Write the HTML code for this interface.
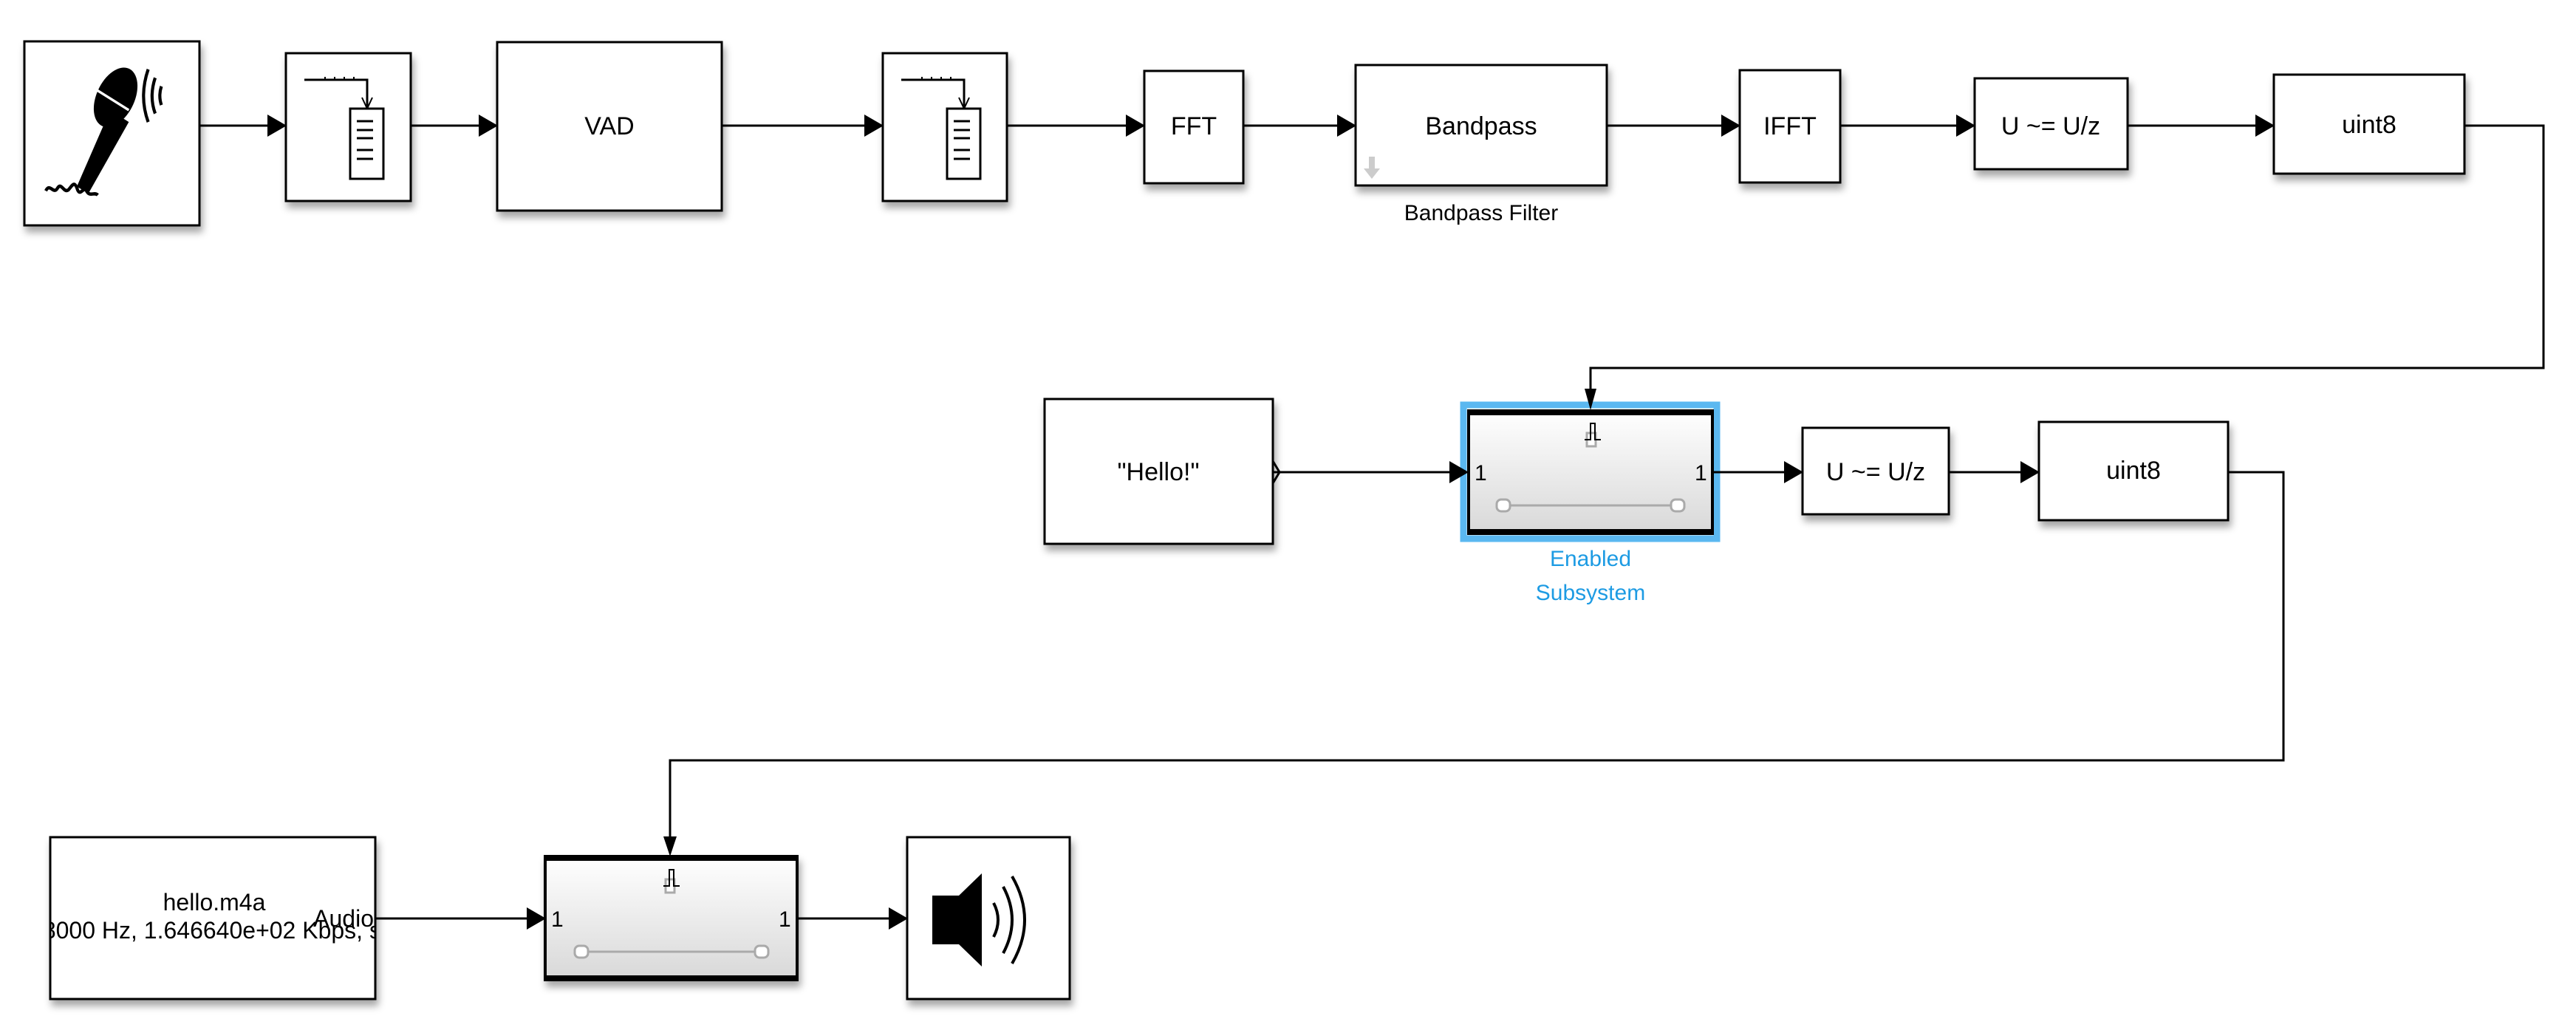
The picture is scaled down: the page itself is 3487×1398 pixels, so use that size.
<!DOCTYPE html>
<html><head><meta charset="utf-8"><style>
html,body{margin:0;padding:0;background:#fff;}
svg{display:block;}
text{font-family:"Liberation Sans",sans-serif;}
</style></head><body>
<svg width="3487" height="1398" viewBox="0 0 3487 1398" xmlns="http://www.w3.org/2000/svg">
<defs>
<filter id="sh" x="-10%" y="-10%" width="130%" height="140%">
<feDropShadow dx="3" dy="8" stdDeviation="5" flood-color="#000" flood-opacity="0.35"/>
</filter>
<linearGradient id="sg" x1="0" y1="0" x2="0" y2="1">
<stop offset="0" stop-color="#ffffff"/><stop offset="1" stop-color="#d8d8d8"/>
</linearGradient>
<clipPath id="clipHello"><rect x="68" y="1133" width="440" height="219"/></clipPath>
</defs>
<g fill="#fff" stroke="#000" stroke-width="3" filter="url(#sh)">
<rect x="33" y="56" width="237" height="249"/>
<rect x="387" y="72" width="169" height="200"/>
<rect x="673" y="57" width="304" height="228"/>
<rect x="1195" y="72" width="168" height="200"/>
<rect x="1549" y="96" width="134" height="152"/>
<rect x="1835" y="88" width="340" height="163"/>
<rect x="2355" y="95" width="136" height="152"/>
<rect x="2673" y="106" width="207" height="123"/>
<rect x="3078" y="101" width="258" height="134"/>
<rect x="1414" y="540" width="309" height="196"/>
<rect x="2440" y="579" width="198" height="117"/>
<rect x="2760" y="571" width="256" height="133"/>
<rect x="68" y="1133" width="440" height="219"/>
<rect x="1228" y="1133" width="220" height="219"/>
</g>
<!-- enabled subsystems -->
<rect x="1981" y="548" width="343" height="181" fill="none" stroke="#5bb8f0" stroke-width="9"/>
<rect x="1988" y="556" width="330" height="166" fill="url(#sg)" stroke="#000" stroke-width="4"/>
<rect x="1988" y="556" width="330" height="6" fill="#000"/>
<rect x="1988" y="716" width="330" height="6" fill="#000"/>
<rect x="738" y="1159" width="341" height="167" fill="url(#sg)" stroke="#000" stroke-width="4" filter="url(#sh)"/>
<rect x="738" y="1159" width="341" height="6" fill="#000"/>
<rect x="738" y="1320" width="341" height="6" fill="#000"/>
<!-- subsystem internals -->
<g stroke="#aaa" stroke-width="3" fill="#fff">
<line x1="2036" y1="684" x2="2270" y2="684"/>
<rect x="2026" y="676" width="18" height="16" rx="6"/>
<rect x="2262" y="676" width="18" height="16" rx="6"/>
<line x1="788" y1="1288" x2="1030" y2="1288"/>
<rect x="778" y="1280" width="18" height="16" rx="6"/>
<rect x="1022" y="1280" width="18" height="16" rx="6"/>
<rect x="2148" y="586" width="12" height="18"/>
<rect x="901" y="1190" width="12" height="18"/>
</g>
<g stroke="#000" stroke-width="2" fill="none">
<path d="M2145 595 h8 v-22 h6 v22 h8"/>
<path d="M898 1199 h8 v-22 h6 v22 h8"/>
</g>
<g font-size="30" fill="#000">
<text x="1996" y="650">1</text><text x="2294" y="650">1</text>
<text x="746" y="1254">1</text><text x="1054" y="1254">1</text>
</g>
<!-- texts -->
<g font-size="34" fill="#000" text-anchor="middle">
<text x="825" y="182">VAD</text>
<text x="1616" y="182">FFT</text>
<text x="2005" y="182">Bandpass</text>
<text x="2423" y="182">IFFT</text>
<text x="2776" y="182">U ~= U/z</text>
<text x="3207" y="180">uint8</text>
<text x="1568" y="650">"Hello!"</text>
<text x="2539" y="650">U ~= U/z</text>
<text x="2888" y="648">uint8</text>
</g>
<text x="2005" y="298" font-size="30" text-anchor="middle" fill="#000">Bandpass Filter</text>
<text x="2153" y="766" font-size="30" text-anchor="middle" fill="#1d9be3">Enabled</text>
<text x="2153" y="812" font-size="30" text-anchor="middle" fill="#1d9be3">Subsystem</text>
<g clip-path="url(#clipHello)" font-size="32" fill="#000">
<text x="290" y="1232" text-anchor="middle">hello.m4a</text>
<text x="278" y="1270" text-anchor="middle">48000 Hz, 1.646640e+02 Kbps, s</text>
<text x="506" y="1254" text-anchor="end">Audio</text>
</g>
<path d="M1853 212 h8 v16 h7 l-11 14 l-11 -14 h7 z" fill="#ccc"/>
<!-- buffer icons -->
<g stroke="#000" stroke-width="3" fill="#fff">
<path d="M412 108 h85 v37" fill="none"/>
<path d="M490 132 l7 15 l7 -15" fill="none" stroke-width="2"/>
<rect x="474" y="147" width="45" height="95"/>
<path d="M1220 108 h85 v37" fill="none"/>
<path d="M1298 132 l7 15 l7 -15" fill="none" stroke-width="2"/>
<rect x="1282" y="147" width="45" height="95"/>
</g>
<g stroke="#000" stroke-width="3">
<path d="M483 164 h22 M483 176 h22 M483 187 h22 M483 203 h22 M483 215 h22"/>
<path d="M1291 164 h22 M1291 176 h22 M1291 187 h22 M1291 203 h22 M1291 215 h22"/>
<path d="M440 104 v4 M453 104 v4 M466 104 v4 M479 104 v4" stroke-width="2"/>
<path d="M1248 104 v4 M1261 104 v4 M1274 104 v4 M1287 104 v4" stroke-width="2"/>
</g>
<!-- microphone -->
<g transform="translate(62,80) scale(1.05 1.15) translate(-45,-60)">
<path d="M85 210 L128 120 L152 134 L100 218 Z" fill="#000"/>
<ellipse cx="135" cy="105" rx="24" ry="38" transform="rotate(30 135 105)" fill="#000"/>
<path d="M110 96 L152 120" stroke="#fff" stroke-width="3"/>
<path d="M45 215 c5 -10 10 5 15 -3 c5 -8 8 6 14 2 c5 -5 8 -12 12 0 c4 8 8 -6 12 2 c4 6 10 0 14 4" fill="none" stroke="#000" stroke-width="4"/>
<path d="M177 72 q-12 32 0 62" fill="none" stroke="#000" stroke-width="4"/>
<path d="M186 82 q-8 22 0 42" fill="none" stroke="#000" stroke-width="4"/>
<path d="M194 92 q-4 11 0 22" fill="none" stroke="#000" stroke-width="4"/>
</g>
<!-- speaker -->
<g>
<rect x="1262" y="1212" width="38" height="66" fill="#000"/>
<path d="M1298 1212 L1329 1182 L1329 1308 L1298 1278 Z" fill="#000"/>
<path d="M1345 1222 q12 23 0 46" fill="none" stroke="#000" stroke-width="4"/>
<path d="M1358 1200 q24 45 0 90" fill="none" stroke="#000" stroke-width="4"/>
<path d="M1370 1186 q34 59 0 118" fill="none" stroke="#000" stroke-width="4"/>
</g>
<!-- connectors -->
<g stroke="#000" stroke-width="3" fill="none">
<path d="M270 170 H362"/>
<path d="M556 170 H648"/>
<path d="M977 170 H1170"/>
<path d="M1363 170 H1524"/>
<path d="M1683 170 H1810"/>
<path d="M2175 170 H2330"/>
<path d="M2491 170 H2648"/>
<path d="M2880 170 H3053"/>
<path d="M3336 170 H3443 V498 H2153 V528"/>
<path d="M1723 639 H1962"/>
<path d="M2318 639 H2415"/>
<path d="M2638 639 H2735"/>
<path d="M3016 639 H3091 V1029 H907 V1133"/>
<path d="M508 1243 H713"/>
<path d="M1079 1243 H1203"/>
<path d="M1723 624 l9 15 l-9 15" stroke-width="3"/>
</g>
<g fill="#000">
<path d="M362 155 L388 170 L362 185 Z"/>
<path d="M648 155 L674 170 L648 185 Z"/>
<path d="M1170 155 L1196 170 L1170 185 Z"/>
<path d="M1524 155 L1550 170 L1524 185 Z"/>
<path d="M1810 155 L1836 170 L1810 185 Z"/>
<path d="M2330 155 L2356 170 L2330 185 Z"/>
<path d="M2648 155 L2674 170 L2648 185 Z"/>
<path d="M3053 155 L3079 170 L3053 185 Z"/>
<path d="M2145 526 L2153 555 L2161 526 Z"/>
<path d="M1962 624 L1988 639 L1962 654 Z"/>
<path d="M2415 624 L2441 639 L2415 654 Z"/>
<path d="M2735 624 L2761 639 L2735 654 Z"/>
<path d="M898 1132 L907 1159 L916 1132 Z"/>
<path d="M713 1228 L739 1243 L713 1258 Z"/>
<path d="M1203 1228 L1229 1243 L1203 1258 Z"/>
</g>
</svg>
</body></html>
